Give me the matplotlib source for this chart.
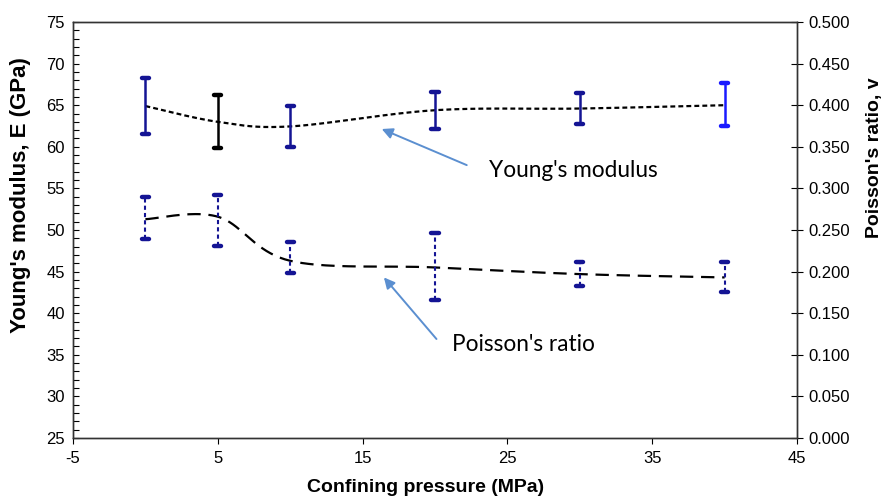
import numpy as np
import matplotlib
matplotlib.use("Agg")
import matplotlib.pyplot as plt
from matplotlib.ticker import MultipleLocator, FormatStrFormatter

# ---- data ----
pressure = [0, 5, 10, 20, 30, 40]
young_mean = [64.9, 63.0, 62.45, 64.4, 64.6, 65.0]
young_low = [61.5, 59.8, 60.0, 62.2, 62.8, 62.5]
young_high = [68.3, 66.2, 64.9, 66.6, 66.5, 67.7]
poisson_mean = [0.263, 0.266, 0.213, 0.205, 0.197, 0.193]
poisson_low = [0.239, 0.231, 0.198, 0.166, 0.183, 0.176]
poisson_high = [0.290, 0.292, 0.236, 0.247, 0.211, 0.212]
young_bar_colors = ["#141494", "#000000", "#141494", "#141494", "#141494", "#1a1aff"]
poisson_bar_color = "#141494"

x_ticks = [-5, 5, 15, 25, 35, 45]

plt.rcParams['font.family'] = ['Liberation Sans', 'DejaVu Sans']
plt.rcParams['axes.unicode_minus'] = False

fig = plt.figure(figsize=(8.85, 4.97), dpi=100)
ax = fig.add_axes([0.0825, 0.1187, 0.8181, 0.837])
ax2 = ax.twinx()

ax.set_xlim(-5, 45)
ax.set_ylim(25, 75)
ax2.set_ylim(0, 0.5)


def smooth(xs, ys, x0, x1, y0, y1, n=40):
    # Catmull-Rom (Excel-like smoothing) in normalized axes space
    px = (np.array(xs, float) - x0) / (x1 - x0)
    py = (np.array(ys, float) - y0) / (y1 - y0)
    P = np.column_stack([px, py])
    P = np.vstack([P[0], P, P[-1]])
    out = []
    for i in range(1, len(P) - 2):
        p0, p1, p2, p3 = P[i - 1], P[i], P[i + 1], P[i + 2]
        c1 = p1 + (p2 - p0) / 6
        c2 = p2 - (p3 - p1) / 6
        t = np.linspace(0, 1, n)[:, None]
        seg = ((1 - t) ** 3) * p1 + 3 * ((1 - t) ** 2) * t * c1 + 3 * (1 - t) * t ** 2 * c2 + t ** 3 * p2
        out.append(seg if i == 1 else seg[1:])
    S = np.vstack(out)
    return S[:, 0] * (x1 - x0) + x0, S[:, 1] * (y1 - y0) + y0


# Young's modulus
sx, sy = smooth(pressure, young_mean, -5, 45, 25, 75)
ax.plot(sx, sy, color="black", lw=1.6, linestyle=(0, (2.2, 1.4)), zorder=3)
for x, lo, hi, c in zip(pressure, young_low, young_high, young_bar_colors):
    ax.plot([x, x], [lo, hi], color=c, lw=1.8, zorder=4)
    for yv in (lo, hi):
        ax.plot([x - 0.25, x + 0.25], [yv, yv], color=c, lw=3.2,
                solid_capstyle='round', zorder=4)

# Poisson's ratio
px_, py_ = smooth(pressure, poisson_mean, -5, 45, 0, 0.5)
ax2.plot(px_, py_, color="black", lw=1.6, linestyle=(0, (6, 3.5)), zorder=3)
for x, lo, hi in zip(pressure, poisson_low, poisson_high):
    ax2.plot([x, x], [lo, hi], color=poisson_bar_color, lw=1.5,
             linestyle=(0, (2, 1.5)), zorder=4)
    for yv in (lo, hi):
        ax2.plot([x - 0.25, x + 0.25], [yv, yv], color=poisson_bar_color, lw=3.2,
                 solid_capstyle='round', zorder=4)

# ticks
ax.set_xticks(x_ticks)
ax.yaxis.set_major_locator(MultipleLocator(5))
ax.yaxis.set_minor_locator(MultipleLocator(1))
ax.tick_params(axis='y', which='both', direction='in', length=4, width=0.8,
               labelsize=12, pad=6)
ax.tick_params(axis='x', direction='out', length=4, width=0.8, labelsize=12, pad=5)
ax2.yaxis.set_major_locator(MultipleLocator(0.05))
ax2.yaxis.set_major_formatter(FormatStrFormatter('%.3f'))
ax2.tick_params(axis='y', which='major', direction='inout', length=8, width=0.8,
                labelsize=12, pad=4)
ax2.yaxis.set_minor_locator(plt.NullLocator())

for a in (ax, ax2):
    for s in a.spines.values():
        s.set_linewidth(1.0)
        s.set_color("#333333")

ax.set_ylabel("Young's modulus, E (GPa)", fontsize=16, fontweight='bold')
ax.yaxis.label.set_va('center')
ax.yaxis.set_label_coords(-0.073, 0.584)
ax2.set_ylabel("Poisson's ratio, v", fontsize=14, fontweight='bold')
ax2.yaxis.label.set_va('center')
ax2.yaxis.set_label_coords(1.107, 0.675)
ax.set_xlabel("Confining pressure (MPa)", fontsize=14, fontweight='bold')
ax.xaxis.label.set_va('center')
ax.xaxis.set_label_coords(0.4876, -0.12)

# annotations
arrow_col = "#5b8fd0"
ax.annotate("", xy=(16.32, 62.14), xytext=(22.19, 57.8),
            arrowprops=dict(arrowstyle="-|>", color=arrow_col, lw=1.4, mutation_scale=16,
                            shrinkA=0, shrinkB=0),
            zorder=5)
ax.text(23.7, 57.2, "Young's modulus", fontsize=16.3, family=['Lato', 'DejaVu Sans'],
        va='center', ha='left')
ax2.annotate("", xy=(16.47, 0.193), xytext=(20.1, 0.119),
             arrowprops=dict(arrowstyle="-|>", color=arrow_col, lw=1.4, mutation_scale=16,
                             shrinkA=0, shrinkB=0),
             zorder=5)
ax2.text(21.2, 0.112, "Poisson's ratio", fontsize=16.3, family=['Lato', 'DejaVu Sans'],
         va='center', ha='left')

fig.savefig("out.png", dpi=100)
